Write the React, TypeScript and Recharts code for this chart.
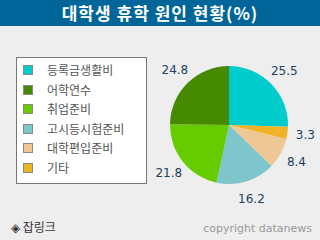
import React from "react";
import { PieChart, Pie, Cell } from "recharts";

const title = "대학생 휴학 원인 현황(%)";
const legendNames = ["등록금생활비", "어학연수", "취업준비", "고시등시험준비", "대학편입준비", "기타"];
const legendValues = [25.5, 24.8, 21.8, 16.2, 8.4, 3.3];
const legendColors = ["#00CCCC", "#458A00", "#66CC00", "#7EC5CC", "#EEC795", "#F0B323"];
// clockwise drawing order from 12 o'clock
const pieOrder = [0, 5, 4, 3, 2, 1];

const pieData = pieOrder.map((i) => ({ name: legendNames[i], value: legendValues[i], color: legendColors[i] }));

const RAD = Math.PI / 180;
const renderLabel = (props: any) => {
  const { cx, cy, midAngle, outerRadius, value } = props;
  const r = outerRadius + 18;
  const x = cx + r * Math.cos(-midAngle * RAD);
  const y = cy + r * Math.sin(-midAngle * RAD);
  return (
    <text x={x} y={y} fill="#1F3F63" fontSize={12} fontFamily="DejaVu Sans, Verdana, sans-serif" textAnchor="middle" dominantBaseline="central">
      {value}
    </text>
  );
};

export default function App() {
  return (
    <div style={{ position: "absolute", left: 0, top: 0, width: 320, height: 240, background: "#EEEEEE", overflow: "hidden", fontFamily: "'Noto Sans CJK KR', sans-serif" }}>
      <div style={{ position: "absolute", left: 0, top: 0, width: 320, height: 26, background: "#00669A", color: "#fff", fontSize: 17, fontWeight: "bold", textAlign: "center", lineHeight: "26px", letterSpacing: 1 }}>
        {title}
      </div>
      <div style={{ position: "absolute", left: 0, top: 0 }}>
        <PieChart width={320} height={240}>
          <Pie
            data={pieData}
            dataKey="value"
            cx={224}
            cy={120}
            outerRadius={59}
            startAngle={90}
            endAngle={-270}
            stroke="none"
            label={renderLabel}
            labelLine={false}
            isAnimationActive={false}
          >
            {pieData.map((d, i) => (
              <Cell key={i} fill={d.color} />
            ))}
          </Pie>
        </PieChart>
      </div>
      <div style={{ position: "absolute", left: 16, top: 57, width: 129, height: 125, background: "#fff", border: "1px solid #777" }}>
        {legendNames.map((n, i) => (
          <div key={n} style={{ position: "absolute", left: 6, top: 5 + i * 19.6, height: 14, display: "flex", alignItems: "center" }}>
            <div style={{ width: 8, height: 8, background: legendColors[i], border: "1px solid #888" }} />
            <span style={{ marginLeft: 14, fontSize: 12, color: "#555", lineHeight: "14px" }}>{n}</span>
          </div>
        ))}
      </div>
      <div style={{ position: "absolute", left: 11, top: 219, fontSize: 12, color: "#333", lineHeight: "16px" }}>◈ 잡링크</div>
      <div style={{ position: "absolute", right: 8, top: 221, fontSize: 11, color: "#999", lineHeight: "16px", fontFamily: "DejaVu Sans, Verdana, sans-serif" }}>copyright datanews</div>
    </div>
  );
}
